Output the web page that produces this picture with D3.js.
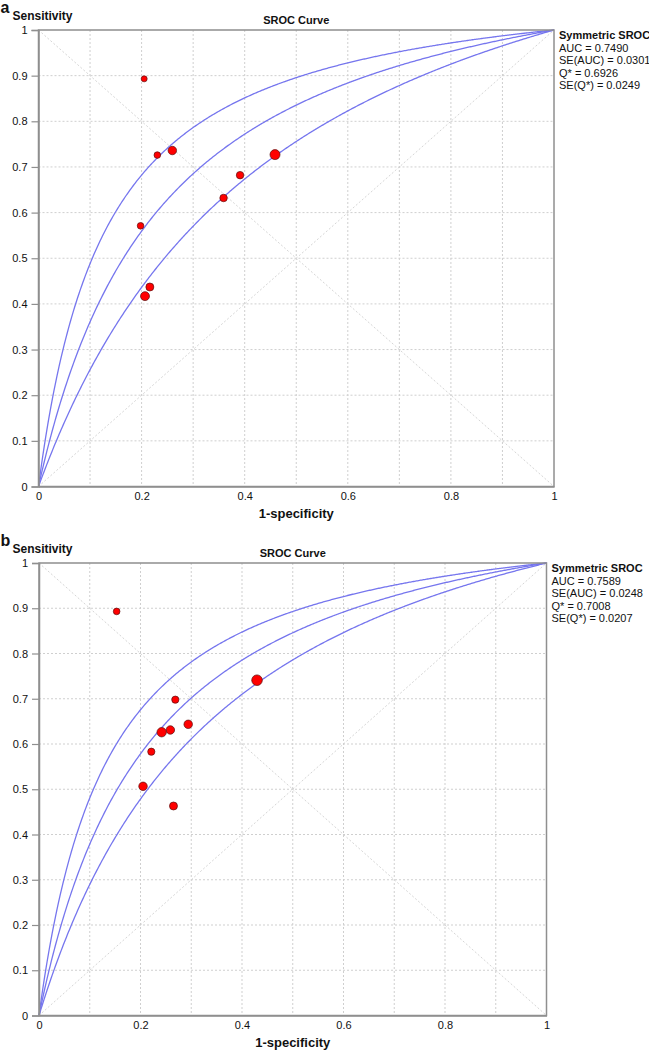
<!DOCTYPE html>
<html>
<head>
<meta charset="utf-8">
<script src="https://cdn.jsdelivr.net/npm/d3@7"></script>
<style>
  html, body { margin: 0; padding: 0; background: #fff; }
  svg { display: block; font-family: "Liberation Sans", Arial, sans-serif; }
</style>
</head>
<body>
<svg id="chart" width="649" height="1050"></svg>
<script>
// ---------- data ----------
const panelLetters = ["a", "b"];
const chartTitle = "SROC Curve";
const yAxisTitle = "Sensitivity";
const xAxisTitle = "1-specificity";
const yTickValues = [0, 0.1, 0.2, 0.3, 0.4, 0.5, 0.6, 0.7, 0.8, 0.9, 1];
const xTickValues = [0, 0.2, 0.4, 0.6, 0.8, 1];
const gridValues = [0.1, 0.2, 0.3, 0.4, 0.5, 0.6, 0.7, 0.8, 0.9];

// Panel a studies
const fprA = [0.205, 0.2305, 0.2596, 0.4588, 0.391, 0.359, 0.198, 0.216, 0.2066];
const sensA = [0.893, 0.726, 0.736, 0.727, 0.682, 0.632, 0.571, 0.437, 0.417];
const weightA = [9, 11, 18, 25, 14, 14, 11, 16, 20];
// SROC curves (log diagnostic odds ratio): upper, symmetric SROC, lower
const curveLogDorA = [2.15, 1.6246, 1.13];
const legendA = ["Symmetric SROC", "AUC = 0.7490", "SE(AUC) = 0.0301", "Q* = 0.6926", "SE(Q*) = 0.0249"];

// Panel b studies
const fprB = [0.153, 0.2686, 0.4296, 0.294, 0.2588, 0.2417, 0.2213, 0.205, 0.265];
const sensB = [0.893, 0.698, 0.741, 0.6435, 0.631, 0.626, 0.583, 0.5065, 0.463];
const weightB = [11, 13, 28, 18, 18, 22, 13, 18, 16];
const curveLogDorB = [2.12, 1.7022, 1.30];
const legendB = ["Symmetric SROC", "AUC = 0.7589", "SE(AUC) = 0.0248", "Q* = 0.7008", "SE(Q*) = 0.0207"];

// ---------- layout ----------
const panels = [
  { letter: panelLetters[0], fpr: fprA, sens: sensA, w: weightA, dor: curveLogDorA, legend: legendA,
    left: 38.5, right: 554, top: 30, bottom: 486.5 },
  { letter: panelLetters[1], fpr: fprB, sens: sensB, w: weightB, dor: curveLogDorB, legend: legendB,
    left: 39, right: 546.5, top: 563, bottom: 1015.5 }
];

const svg = d3.select("#chart");
const gridColor = "#cfcfcf";
const frameColor = "#8f8f8f";
const curveColor = "#7676ee";

// SROC model curve: logit(TPR) = D + logit(FPR)
function sroc(D, f) {
  if (f <= 0) return 0;
  if (f >= 1) return 1;
  const e = Math.exp(D) * f;
  return e / (e + 1 - f);
}
const samples = d3.range(0, 1.0001, 0.002);

panels.forEach(p => {
  const x = d3.scaleLinear().domain([0, 1]).range([p.left, p.right]);
  const y = d3.scaleLinear().domain([0, 1]).range([p.bottom, p.top]);
  const g = svg.append("g");

  // grid
  g.selectAll(".gx").data(gridValues).enter().append("line")
    .attr("x1", d => x(d)).attr("x2", d => x(d))
    .attr("y1", p.top).attr("y2", p.bottom)
    .attr("stroke", gridColor).attr("stroke-width", 1).attr("stroke-dasharray", "2,2");
  g.selectAll(".gy").data(gridValues).enter().append("line")
    .attr("y1", d => y(d)).attr("y2", d => y(d))
    .attr("x1", p.left).attr("x2", p.right)
    .attr("stroke", gridColor).attr("stroke-width", 1).attr("stroke-dasharray", "2,2");

  // diagonals
  const diag = [[[0, 0], [1, 1]], [[0, 1], [1, 0]]];
  g.selectAll(".diag").data(diag).enter().append("line")
    .attr("x1", d => x(d[0][0])).attr("y1", d => y(d[0][1]))
    .attr("x2", d => x(d[1][0])).attr("y2", d => y(d[1][1]))
    .attr("stroke", "#d6d6d6").attr("stroke-width", 1).attr("stroke-dasharray", "2,2");

  // curves
  const line = d3.line().x(d => x(d[0])).y(d => y(d[1]));
  p.dor.forEach(D => {
    g.append("path")
      .attr("d", line(samples.map(f => [f, sroc(D, f)])))
      .attr("fill", "none").attr("stroke", curveColor).attr("stroke-width", 1.3);
  });

  // frame
  g.append("rect")
    .attr("x", p.left).attr("y", p.top)
    .attr("width", p.right - p.left).attr("height", p.bottom - p.top)
    .attr("fill", "none").attr("stroke", frameColor).attr("stroke-width", 1.5);

  // y axis
  const yAxis = d3.axisLeft(y).tickValues(yTickValues).tickSize(7).tickPadding(4)
    .tickFormat(d => d3.format("")(+d.toFixed(1)));
  const ya = g.append("g").attr("transform", `translate(${p.left},0)`).call(yAxis);
  ya.select(".domain").attr("stroke", frameColor).attr("stroke-width", 1.5);
  ya.selectAll(".tick line").attr("stroke", frameColor).attr("stroke-width", 1.2);
  ya.selectAll(".tick text").attr("font-size", 11).attr("fill", "#111")
    .attr("font-family", "Liberation Sans, Arial, sans-serif");

  // x axis
  const xAxis = d3.axisBottom(x).tickValues(xTickValues).tickSize(0).tickPadding(6)
    .tickFormat(d => d3.format("")(+d.toFixed(1)));
  const xa = g.append("g").attr("transform", `translate(0,${p.bottom})`).call(xAxis);
  xa.select(".domain").attr("stroke", frameColor).attr("stroke-width", 1.5);
  xa.selectAll(".tick text").attr("font-size", 11).attr("fill", "#111")
    .attr("font-family", "Liberation Sans, Arial, sans-serif");

  // points
  const pts = p.fpr.map((f, i) => ({ f, s: p.sens[i], w: p.w[i] }));
  g.selectAll(".pt").data(pts).enter().append("circle")
    .attr("cx", d => x(d.f)).attr("cy", d => y(d.s))
    .attr("r", d => Math.sqrt(d.w))
    .attr("fill", "#ff0000").attr("stroke", "#5a1010").attr("stroke-width", 0.7);

  // labels
  g.append("text").attr("x", 0.5).attr("y", p.top - 17.5)
    .attr("font-size", 16).attr("font-weight", "bold").attr("fill", "#111").text(p.letter);
  g.append("text").attr("x", 12.5).attr("y", p.top - 10.5)
    .attr("font-size", 12).attr("font-weight", "bold").attr("fill", "#111").text(yAxisTitle);
  g.append("text").attr("x", (p.left + p.right) / 2).attr("y", p.top - 6)
    .attr("text-anchor", "middle").attr("font-size", 11).attr("font-weight", "bold").attr("fill", "#111")
    .text(chartTitle);
  g.append("text").attr("x", (p.left + p.right) / 2).attr("y", p.bottom + 31)
    .attr("text-anchor", "middle").attr("font-size", 13).attr("font-weight", "bold").attr("fill", "#111")
    .text(xAxisTitle);

  // legend
  g.selectAll(".leg").data(p.legend).enter().append("text")
    .attr("x", p.right + 5)
    .attr("y", (d, i) => p.top + 9 + i * 12.6)
    .attr("font-size", 11).attr("fill", "#111")
    .attr("font-weight", (d, i) => i === 0 ? "bold" : "normal")
    .text(d => d);
});
</script>
</body>
</html>
